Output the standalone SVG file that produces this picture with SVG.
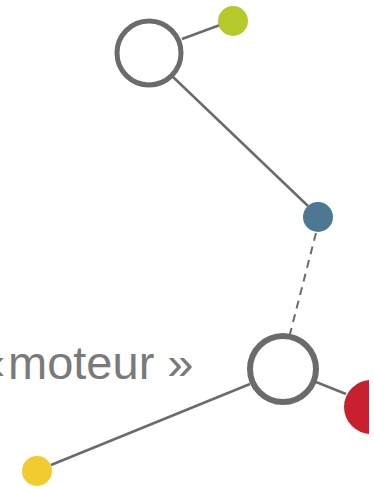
<svg xmlns="http://www.w3.org/2000/svg" width="374" height="487" viewBox="0 0 374 487">
  <style>
    .link { stroke: #6b6b6b; stroke-width: 2.5; fill: none; }
    .dash { stroke: #6b6b6b; stroke-width: 2; fill: none; stroke-dasharray: 8 6; }
    .ring { fill: #ffffff; stroke: #6b6b6b; }
    .label { font-family: "Liberation Sans", Arial, sans-serif; font-size: 47px; fill: #7a7a7a; }
  </style>
  <defs>
    <clipPath id="edge">
      <rect x="0" y="0" width="369" height="487"/>
    </clipPath>
  </defs>
  <g id="connectors">
    <line class="link" x1="182" y1="39" x2="220" y2="25"/>
    <line class="link" x1="172" y1="76" x2="308" y2="206"/>
    <line class="dash" x1="316" y1="233" x2="290" y2="334"/>
    <line class="link" x1="316" y1="382" x2="346" y2="394"/>
    <line class="link" x1="250" y1="384" x2="51" y2="465"/>
  </g>
  <g id="hub-top">
    <circle class="ring" cx="149" cy="53" r="32" stroke-width="5"/>
  </g>
  <g id="dot-green">
    <circle cx="233" cy="21" r="15" fill="#b6c92b"/>
  </g>
  <g id="dot-blue">
    <circle cx="318" cy="217" r="15" fill="#4d7892"/>
  </g>
  <g id="hub-bottom">
    <circle class="ring" cx="283" cy="369" r="33" stroke-width="6"/>
  </g>
  <g id="dot-red" clip-path="url(#edge)">
    <circle cx="371" cy="407" r="27" fill="#c8202f"/>
  </g>
  <g id="dot-yellow">
    <circle cx="37" cy="471" r="15" fill="#f1cb30"/>
  </g>
  <g id="label">
    <text class="label" x="-21" y="379">«<tspan x="8">moteur »</tspan></text>
  </g>
</svg>
